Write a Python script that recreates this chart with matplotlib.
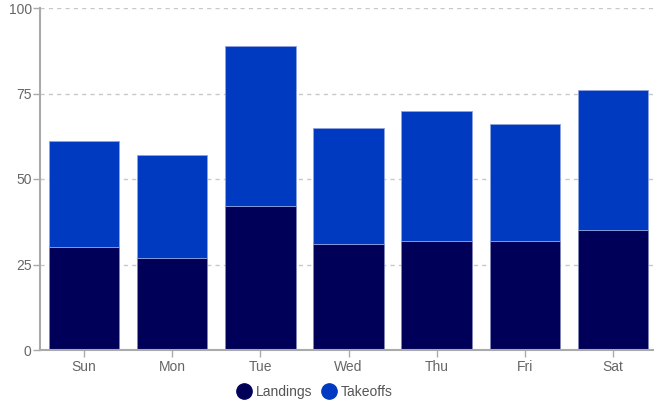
import matplotlib
matplotlib.use('Agg')
import matplotlib.pyplot as plt
from matplotlib.lines import Line2D

plt.rcParams['font.family'] = ['Liberation Sans', 'DejaVu Sans']

days = ['Sun', 'Mon', 'Tue', 'Wed', 'Thu', 'Fri', 'Sat']
landings = [30, 27, 42, 31, 32, 32, 35]
takeoffs = [31, 30, 47, 34, 38, 34, 41]
yticks = [0, 25, 50, 75, 100]

c_land = '#000058'
c_take = '#003ac0'

fig = plt.figure(figsize=(6.54, 4.08), dpi=100)
ax = fig.add_axes([40/654, 58/408, 617/654, 342/408])

x = list(range(len(days)))
ax.bar(x, landings, width=0.8, color=c_land, edgecolor='#7f85b8', linewidth=0.6, zorder=3)
ax.bar(x, takeoffs, width=0.8, bottom=landings, color=c_take, edgecolor='#8fa3dd', linewidth=0.6, zorder=3)

ax.set_xlim(-0.5, 6.5)
ax.set_ylim(0, 100)
ax.set_yticks(yticks)
ax.set_xticks(x)
ax.set_xticklabels(days)
ax.yaxis.grid(True, linestyle=(0, (3, 3)), color='#c8c8c8', linewidth=1, zorder=0)

for s in ['top', 'right']:
    ax.spines[s].set_visible(False)
ax.spines['left'].set_color('#aaaaaa')
ax.spines['left'].set_linewidth(1.5)
ax.spines['bottom'].set_color('#aaaaaa')
ax.spines['bottom'].set_linewidth(1.5)
ax.spines['bottom'].set_zorder(4)

ax.tick_params(axis='both', colors='#aaaaaa', labelcolor='#666666', labelsize=10, length=5, width=1)
ax.tick_params(axis='y', pad=1)
ax.tick_params(axis='x', pad=2)

handles = [Line2D([], [], marker='o', linestyle='', markersize=11, color=c_land),
           Line2D([], [], marker='o', linestyle='', markersize=11, color=c_take)]
fig.legend(handles, ['Landings', 'Takeoffs'], loc='center', bbox_to_anchor=(0.481, 0.04),
           ncol=2, frameon=False, fontsize=10, labelcolor='#555555',
           handletextpad=0.35, columnspacing=0.7, handlelength=1.0)

fig.savefig('out.png', dpi=100)
